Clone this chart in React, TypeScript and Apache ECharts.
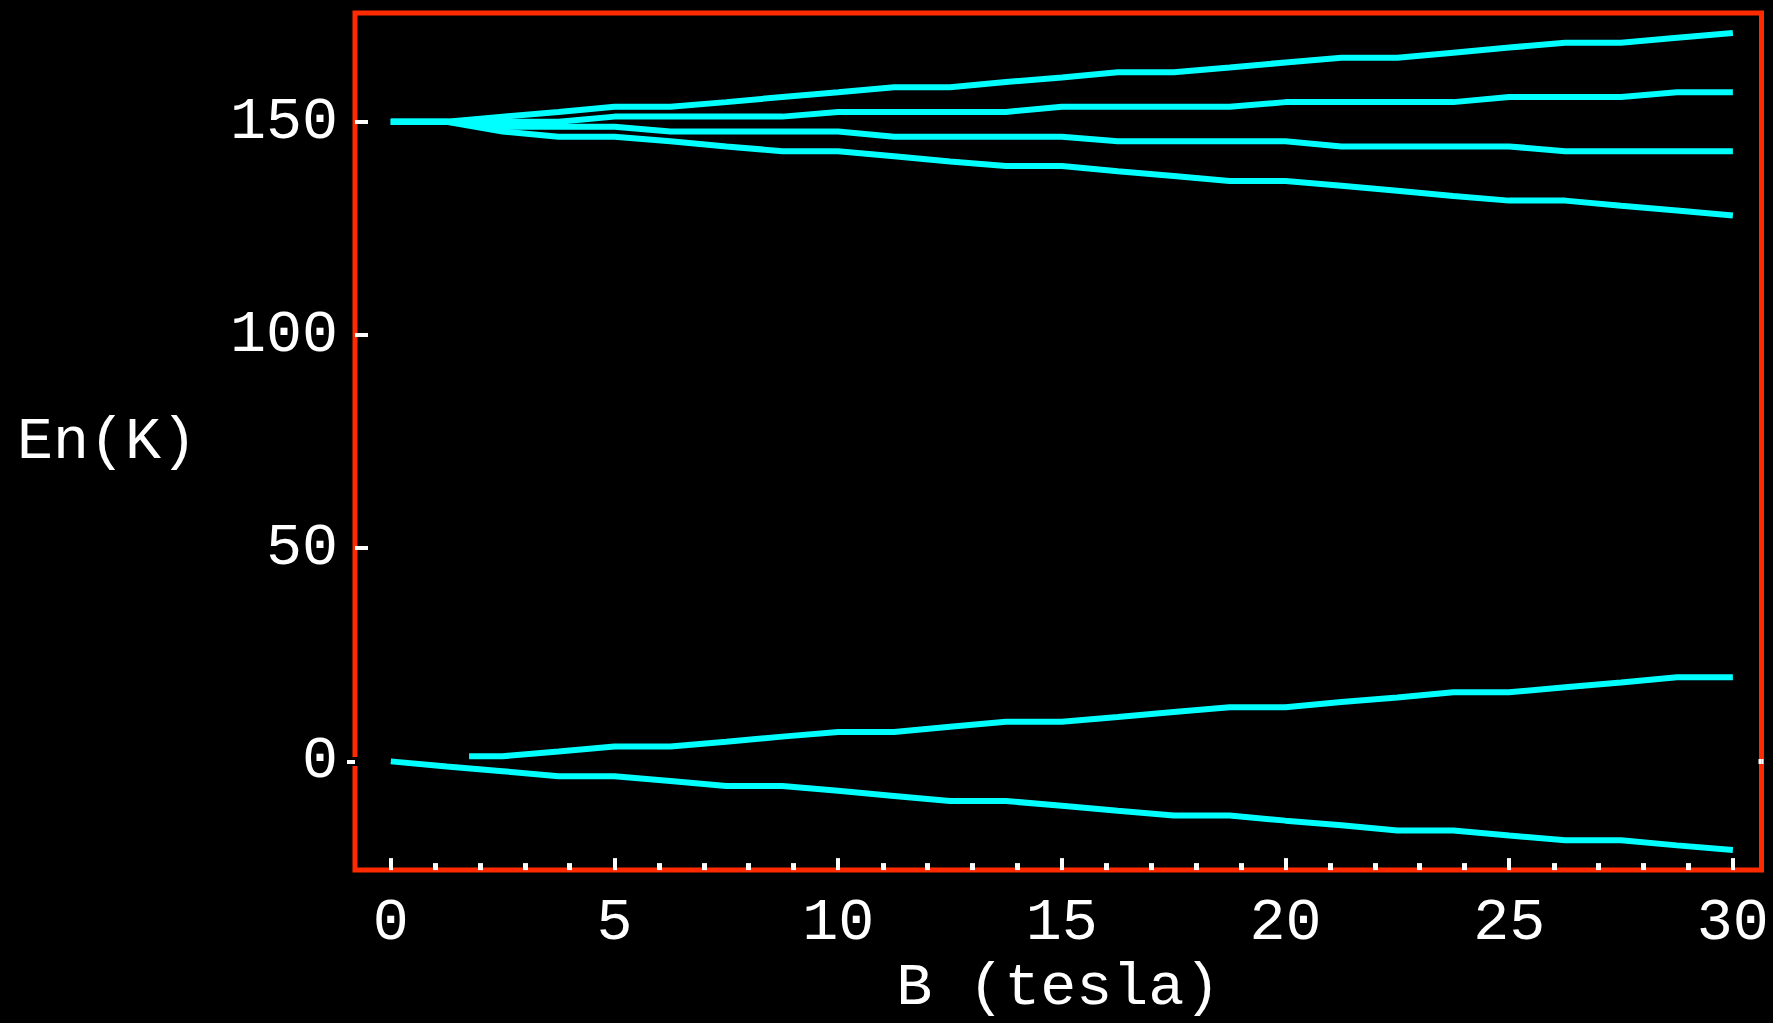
import { useEffect, useRef } from "react";
import * as echarts from "echarts";

// Magnetic field samples (tesla)
const B_FIELD = [0, 1.25, 2.5, 3.75, 5, 6.25, 7.5, 8.75, 10, 11.25, 12.5, 13.75, 15, 16.25, 17.5, 18.75, 20, 21.25, 22.5, 23.75, 25, 26.25, 27.5, 28.75, 30];
const B_FIELD_LOW_UP = [1.75, 2.5, 3.75, 5, 6.25, 7.5, 8.75, 10, 11.25, 12.5, 13.75, 15, 16.25, 17.5, 18.75, 20, 21.25, 22.5, 23.75, 25, 26.25, 27.5, 28.75, 30];

// Energies (K)
const LEVEL_A = [150, 150, 151.2, 152.3, 153.5, 153.5, 154.6, 155.8, 156.9, 158.1, 158.1, 159.3, 160.4, 161.6, 161.6, 162.7, 163.9, 165.0, 165.0, 166.2, 167.4, 168.5, 168.5, 169.7, 170.8];
const LEVEL_B = [150, 150, 150, 150, 151.2, 151.2, 151.2, 151.2, 152.3, 152.3, 152.3, 152.3, 153.5, 153.5, 153.5, 153.5, 154.6, 154.6, 154.6, 154.6, 155.8, 155.8, 155.8, 156.9, 156.9];
const LEVEL_C = [150, 150, 148.8, 148.8, 148.8, 147.7, 147.7, 147.7, 147.7, 146.5, 146.5, 146.5, 146.5, 145.4, 145.4, 145.4, 145.4, 144.2, 144.2, 144.2, 144.2, 143.1, 143.1, 143.1, 143.1];
const LEVEL_D = [150, 150, 147.7, 146.5, 146.5, 145.4, 144.2, 143.1, 143.1, 141.9, 140.7, 139.6, 139.6, 138.4, 137.3, 136.1, 136.1, 135.0, 133.8, 132.6, 131.5, 131.5, 130.3, 129.2, 128.0];
const LEVEL_E = [1.2, 1.2, 2.3, 3.5, 3.5, 4.6, 5.8, 6.9, 6.9, 8.1, 9.3, 9.3, 10.4, 11.6, 12.7, 12.7, 13.9, 15.0, 16.2, 16.2, 17.4, 18.5, 19.7, 19.7];
const LEVEL_F = [0, -1.2, -2.3, -3.5, -3.5, -4.6, -5.8, -5.8, -6.9, -8.1, -9.3, -9.3, -10.4, -11.6, -12.7, -12.7, -13.9, -15.0, -16.2, -16.2, -17.4, -18.5, -18.5, -19.7, -20.8];

// Ticks
const X_MAJOR = [0, 5, 10, 15, 20, 25, 30];
const X_MINOR = [1, 2, 3, 4, 6, 7, 8, 9, 11, 12, 13, 14, 16, 17, 18, 19, 21, 22, 23, 24, 26, 27, 28, 29];
const Y_TICKS = [0, 50, 100, 150];
const Y_ZERO = [0];

const X_MIN = -0.8;
const X_MAX = 30.64;
const Y_MIN = -25.5;
const Y_MAX = 175.5;

const FONT = "Liberation Mono";
const RED = "#ff2a00";
const CYAN = "#00ffff";

const pair = (xs: number[], ys: number[]) => ys.map((y, i) => [xs[i], y]);

export default function App() {
  const ref = useRef<HTMLDivElement>(null);
  useEffect(() => {
    if (!ref.current) return;
    const chart = echarts.init(ref.current, null, { renderer: "svg" });
    const lineSeries = (name: string, data: number[][]) => ({
      name,
      type: "line",
      data,
      xAxisIndex: 0,
      yAxisIndex: 0,
      showSymbol: false,
      symbol: "none",
      lineStyle: { color: CYAN, width: 6 },
      z: 3,
    });
    const plainY = (
      position: string,
      inside: boolean,
      length: number,
      width: number,
      color: string,
      z: number
    ) => ({
      type: "value",
      min: Y_MIN,
      max: Y_MAX,
      position,
      z,
      axisLine: { show: false, onZero: false },
      splitLine: { show: false },
      axisLabel: { show: false },
      axisTick: {
        show: true,
        inside,
        length,
        customValues: Y_ZERO,
        lineStyle: { color, width, cap: "butt" },
      },
    });
    chart.setOption({
      animation: false,
      backgroundColor: "#000",
      grid: {
        left: 355,
        top: 13,
        right: 11.5,
        bottom: 142,
        show: true,
        borderColor: RED,
        borderWidth: 5,
        backgroundColor: "transparent",
      },
      xAxis: [
        {
          type: "value",
          min: X_MIN,
          max: X_MAX,
          position: "bottom",
          z: 5,
          name: "B (tesla)",
          nameLocation: "middle",
          nameGap: 84,
          nameTextStyle: { color: "#fff", fontFamily: FONT, fontSize: 60 },
          axisLine: { show: false, onZero: false },
          splitLine: { show: false },
          axisTick: {
            show: true,
            inside: true,
            length: 12,
            customValues: X_MAJOR,
            lineStyle: { color: "#fff", width: 4 },
          },
          axisLabel: {
            show: true,
            customValues: X_MAJOR,
            color: "#fff",
            fontFamily: FONT,
            fontSize: 60,
            margin: 23,
          },
        },
        {
          type: "value",
          min: X_MIN,
          max: X_MAX,
          position: "bottom",
          z: 5,
          axisLine: { show: false, onZero: false },
          splitLine: { show: false },
          axisLabel: { show: false },
          axisTick: {
            show: true,
            inside: true,
            length: 7,
            customValues: X_MINOR,
            lineStyle: { color: "#fff", width: 5 },
          },
        },
      ],
      yAxis: [
        {
          type: "value",
          min: Y_MIN,
          max: Y_MAX,
          position: "left",
          z: 5,
          name: "En(K)",
          nameLocation: "middle",
          nameRotate: 0,
          nameGap: 158,
          nameTextStyle: { color: "#fff", fontFamily: FONT, fontSize: 60 },
          axisLine: { show: false, onZero: false },
          splitLine: { show: false },
          axisTick: {
            show: true,
            inside: true,
            length: 13,
            customValues: Y_TICKS.filter((v) => v !== 0),
            lineStyle: { color: "#fff", width: 4 },
          },
          axisLabel: {
            show: true,
            customValues: Y_TICKS,
            color: "#fff",
            fontFamily: FONT,
            fontSize: 60,
            margin: 17,
            padding: [6, 0, 0, 0],
          },
        },
        // gap in the left frame at zero
        plainY("left", true, 3, 9, "#000", 6),
        plainY("left", false, 3, 9, "#000", 6),
        // white zero mark outside the left frame
        plainY("left", false, 8, 4, "#fff", 7),
        // white zero dot on the right frame
        plainY("right", true, 3, 5, "#fff", 7),
        plainY("right", false, 2, 5, "#fff", 7),
      ],
      series: [
        lineSeries("a", pair(B_FIELD, LEVEL_A)),
        lineSeries("b", pair(B_FIELD, LEVEL_B)),
        lineSeries("c", pair(B_FIELD, LEVEL_C)),
        lineSeries("d", pair(B_FIELD, LEVEL_D)),
        lineSeries("e", pair(B_FIELD_LOW_UP, LEVEL_E)),
        lineSeries("f", pair(B_FIELD, LEVEL_F)),
      ],
    });
    return () => chart.dispose();
  }, []);
  return (
    <div
      ref={ref}
      style={{ position: "fixed", left: 0, top: 0, width: 1773, height: 1023, background: "#000" }}
    />
  );
}
